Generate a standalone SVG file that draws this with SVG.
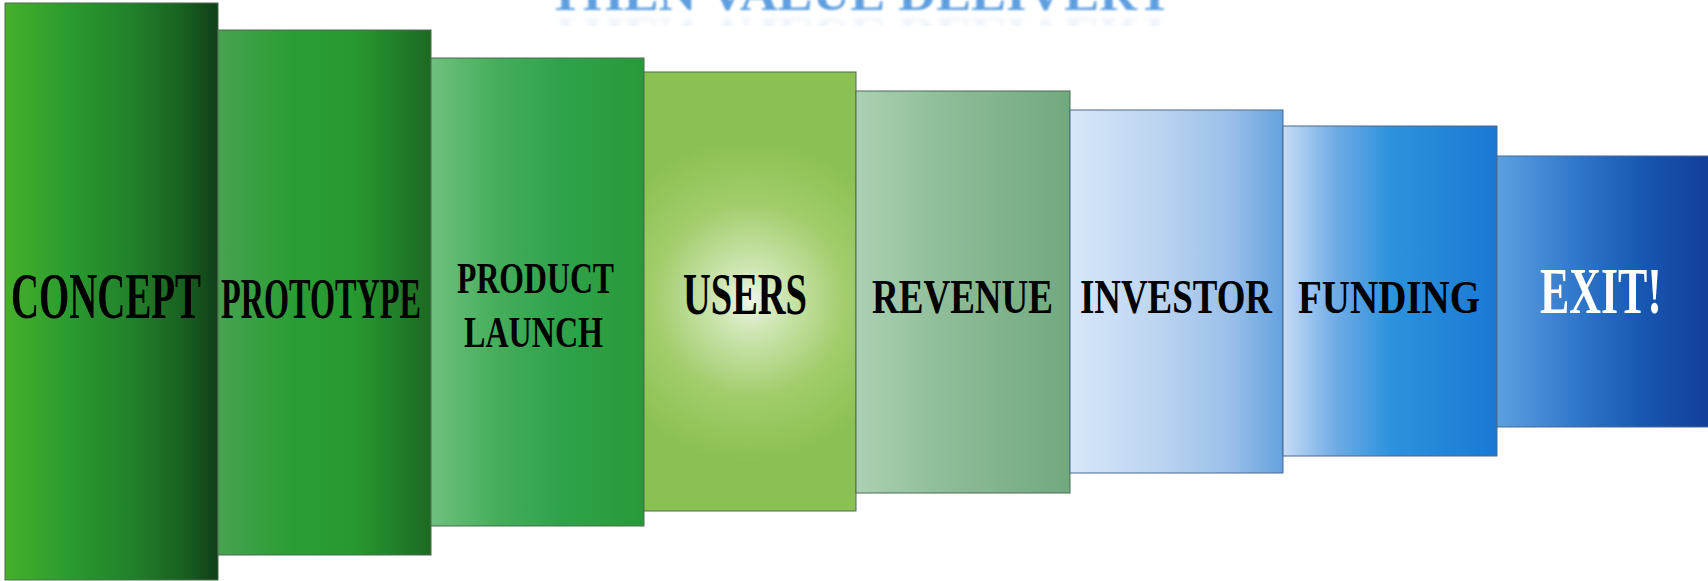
<svg xmlns="http://www.w3.org/2000/svg" width="1708" height="581" viewBox="0 0 1708 581">
<defs>
<style>
.lbl{font-family:"Liberation Serif","Times New Roman",serif;font-weight:bold;fill:#000}
.exit{fill:#fff}
.gp{stroke:#4d6b50;stroke-width:1}
.bp{stroke:#4a6890;stroke-width:1}
.title{font-family:"Liberation Serif","Times New Roman",serif;font-weight:bold;fill:#5f9fe0}
</style>
<linearGradient id="gConcept"><stop offset="0" stop-color="#46b02b"/><stop offset="0.3" stop-color="#2a9b2f"/><stop offset="0.6" stop-color="#21802a"/><stop offset="0.82" stop-color="#1a6321"/><stop offset="1" stop-color="#103f17"/></linearGradient>
<linearGradient id="gProto"><stop offset="0" stop-color="#47a250"/><stop offset="0.35" stop-color="#2a9e34"/><stop offset="0.65" stop-color="#279830"/><stop offset="1" stop-color="#1c6922"/></linearGradient>
<linearGradient id="gLaunch"><stop offset="0" stop-color="#6fc07f"/><stop offset="0.3" stop-color="#46ae5c"/><stop offset="0.6" stop-color="#2fa34b"/><stop offset="1" stop-color="#279a38"/></linearGradient>
<radialGradient id="gUsers" gradientUnits="userSpaceOnUse" cx="750" cy="300" r="160"><stop offset="0" stop-color="#eef6e6"/><stop offset="0.2" stop-color="#cfe6b3"/><stop offset="0.6" stop-color="#a2cd6c"/><stop offset="1" stop-color="#8bc152"/></radialGradient>
<linearGradient id="gRevenue"><stop offset="0" stop-color="#abd1b4"/><stop offset="0.4" stop-color="#8fbd99"/><stop offset="1" stop-color="#71a97f"/></linearGradient>
<linearGradient id="gInvestor"><stop offset="0" stop-color="#d7e7f9"/><stop offset="0.4" stop-color="#bdd5f1"/><stop offset="0.75" stop-color="#9bc0ea"/><stop offset="1" stop-color="#63a2df"/></linearGradient>
<linearGradient id="gFunding"><stop offset="0" stop-color="#c6ddf5"/><stop offset="0.25" stop-color="#6eabe5"/><stop offset="0.5" stop-color="#2d93dd"/><stop offset="1" stop-color="#1a78d3"/></linearGradient>
<linearGradient id="gExit"><stop offset="0" stop-color="#5ca1e1"/><stop offset="0.4" stop-color="#2e74c8"/><stop offset="0.7" stop-color="#1656b0"/><stop offset="1" stop-color="#143e98"/></linearGradient>
<filter id="soft" x="-5%" y="-50%" width="110%" height="200%"><feGaussianBlur stdDeviation="1.1"/></filter>
<filter id="softer" x="-5%" y="-50%" width="110%" height="200%"><feGaussianBlur stdDeviation="2"/></filter>
<clipPath id="reflClip"><rect x="0" y="16" width="1708" height="10"/></clipPath>
</defs>

<g id="title">
<text class="title" x="548" y="10" font-size="48" textLength="625" lengthAdjust="spacingAndGlyphs" filter="url(#soft)">THEN VALUE DELIVERY</text>
<g clip-path="url(#reflClip)" opacity="0.1">
<text class="title" x="548" y="10" font-size="48" textLength="625" lengthAdjust="spacingAndGlyphs" transform="matrix(1 0 0 -1 0 28)" filter="url(#softer)">THEN VALUE DELIVERY</text>
</g>
</g>

<g id="connectors"/>

<g id="node-concept">
<rect class="gp" x="5" y="3" width="213" height="577" fill="url(#gConcept)"/>
<text class="lbl" transform="translate(11 318) scale(0.589 1)" font-size="66" textLength="322.6" lengthAdjust="spacingAndGlyphs">CONCEPT</text>
</g>
<g id="node-prototype">
<rect class="gp" x="218" y="30" width="213" height="525" fill="url(#gProto)"/>
<text class="lbl" transform="translate(221 318) scale(0.564 1)" font-size="57" textLength="354.6" lengthAdjust="spacingAndGlyphs">PROTOTYPE</text>
</g>
<g id="node-product-launch">
<rect class="gp" x="431" y="58" width="213" height="468" fill="url(#gLaunch)"/>
<text class="lbl" transform="translate(457 293) scale(0.706 1)" font-size="45" textLength="222.4" lengthAdjust="spacingAndGlyphs">PRODUCT</text>
<text class="lbl" transform="translate(464 347) scale(0.713 1)" font-size="45" textLength="195" lengthAdjust="spacingAndGlyphs">LAUNCH</text>
</g>
<g id="node-users">
<rect class="gp" x="644" y="72" width="212" height="439" fill="url(#gUsers)"/>
<text class="lbl" transform="translate(683 314) scale(0.652 1)" font-size="59" textLength="190.2" lengthAdjust="spacingAndGlyphs">USERS</text>
</g>
<g id="node-revenue">
<rect class="gp" x="856" y="91" width="214" height="402" fill="url(#gRevenue)"/>
<text class="lbl" transform="translate(872 313) scale(0.755 1)" font-size="49" textLength="239.7" lengthAdjust="spacingAndGlyphs">REVENUE</text>
</g>
<g id="node-investor">
<rect class="bp" x="1070" y="110" width="213" height="363" fill="url(#gInvestor)"/>
<text class="lbl" transform="translate(1080 313) scale(0.75 1)" font-size="49" textLength="256" lengthAdjust="spacingAndGlyphs">INVESTOR</text>
</g>
<g id="node-funding">
<rect class="bp" x="1283" y="126" width="214" height="330" fill="url(#gFunding)"/>
<text class="lbl" transform="translate(1298 313) scale(0.83 1)" font-size="47" textLength="219.3" lengthAdjust="spacingAndGlyphs">FUNDING</text>
</g>
<g id="node-exit">
<rect class="bp" x="1497" y="156" width="212" height="271" fill="url(#gExit)"/>
<text class="lbl exit" transform="translate(1540 313) scale(0.675 1)" font-size="65" textLength="180.7" lengthAdjust="spacingAndGlyphs">EXIT!</text>
</g>
</svg>
